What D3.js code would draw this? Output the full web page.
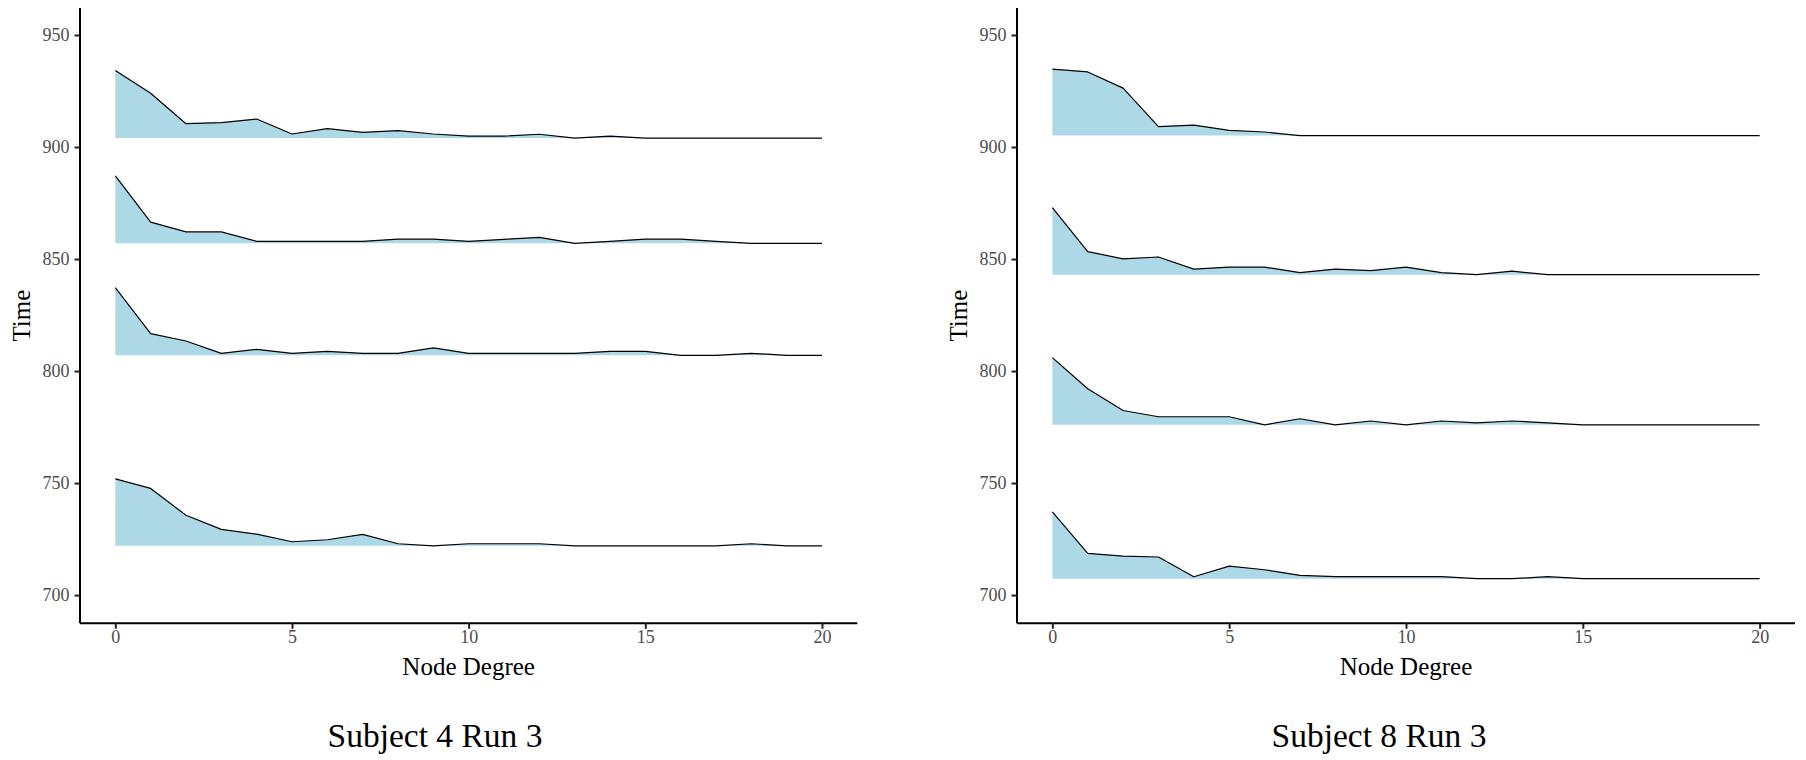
<!DOCTYPE html>
<html>
<head>
<meta charset="utf-8">
<script src="https://cdn.jsdelivr.net/npm/d3@7"></script>
<style>
  html, body { margin: 0; padding: 0; background: #ffffff; }
  svg { display: block; }
  text { font-family: "Liberation Serif", "DejaVu Serif", serif; }
</style>
</head>
<body>
<svg id="chart" width="1806" height="760"></svg>
<script>
// ---- Data ----
const nodeDegree = [0,1,2,3,4,5,6,7,8,9,10,11,12,13,14,15,16,17,18,19,20];

// Subject 4 Run 3 ridges (time values per node degree)
const s4Ridge1 = [934.1,924.0,910.4,910.9,912.5,905.8,908.2,906.5,907.3,905.8,904.9,904.9,905.7,904.0,904.9,904.0,904.0,904.0,904.0,904.0,904.0];
const s4Ridge2 = [887.1,866.5,862.1,862.1,857.9,857.9,857.9,857.9,858.9,858.9,857.9,858.8,859.7,857.0,857.9,858.9,858.9,857.9,857.0,857.0,857.0];
const s4Ridge3 = [837.2,816.7,813.4,807.9,809.7,807.9,808.8,807.9,807.9,810.3,807.9,807.9,807.9,807.9,808.8,808.8,807.0,807.0,807.9,807.0,807.0];
const s4Ridge4 = [751.9,747.6,735.6,729.3,727.2,723.8,724.7,727.1,722.9,722.0,722.9,722.9,722.9,722.0,722.0,722.0,722.0,722.0,722.9,722.0,722.0];

// Subject 8 Run 3 ridges
const s8Ridge1 = [934.8,933.5,926.3,909.1,909.8,907.4,906.7,905.1,905.1,905.1,905.1,905.1,905.1,905.1,905.1,905.1,905.1,905.1,905.1,905.1,905.1];
const s8Ridge2 = [872.9,853.3,850.1,850.9,845.5,846.4,846.4,843.9,845.5,844.8,846.4,843.9,843.0,844.6,843.0,843.0,843.0,843.0,843.0,843.0,843.0];
const s8Ridge3 = [806.0,792.1,782.4,779.6,779.6,779.6,776.0,778.7,776.0,777.7,776.0,777.7,776.9,777.7,776.9,776.0,776.0,776.0,776.0,776.0,776.0];
const s8Ridge4 = [737.1,718.6,717.4,717.0,708.2,712.9,711.3,708.8,708.2,708.2,708.2,708.2,707.3,707.3,708.2,707.3,707.3,707.3,707.3,707.3,707.3];

const xTicks = [0, 5, 10, 15, 20];
const yTicks = [700, 750, 800, 850, 900, 950];
const panelTitles = ["Subject 4 Run 3", "Subject 8 Run 3"];
const xLabel = "Node Degree";
const yLabel = "Time";

const panels = [
  { title: panelTitles[0], ridges: [s4Ridge1, s4Ridge2, s4Ridge3, s4Ridge4], left: 80, right: 857.3, titleX: 435 },
  { title: panelTitles[1], ridges: [s8Ridge1, s8Ridge2, s8Ridge3, s8Ridge4], left: 1017, right: 1795, titleX: 1379 }
];

// ---- Drawing ----
const svg = d3.select("#chart");
const plotTop = 8, plotBottom = 623.3;
const fillColor = "#ADD8E6";
const tickColor = "#4D4D4D";
const serif = '"Liberation Serif", "DejaVu Serif", serif';

panels.forEach(p => {
  const x = d3.scaleLinear().domain([-1, 21]).range([p.left, p.right]);
  const y = d3.scaleLinear().domain([687.4, 962.05]).range([plotBottom, plotTop]);
  const g = svg.append("g");

  // ridges
  p.ridges.forEach(vals => {
    const base = d3.min(vals);
    const pts = nodeDegree.map((d, i) => ({ x: d, v: vals[i] }));
    const area = d3.area().x(d => x(d.x)).y0(y(base)).y1(d => y(d.v));
    const line = d3.line().x(d => x(d.x)).y(d => y(d.v));
    g.append("path").datum(pts).attr("d", area).attr("fill", fillColor).attr("stroke", "none");
    g.append("path").datum(pts).attr("d", line).attr("fill", "none")
      .attr("stroke", "#000").attr("stroke-width", 1.2).attr("stroke-linejoin", "round");
  });

  // axes
  const xAxis = d3.axisBottom(x).tickValues(xTicks).tickSize(5.5).tickPadding(6).tickSizeOuter(0);
  const yAxis = d3.axisLeft(y).tickValues(yTicks).tickSize(5.5).tickPadding(5).tickSizeOuter(0);

  const gx = g.append("g").attr("transform", `translate(0,${plotBottom})`).call(xAxis);
  const gy = g.append("g").attr("transform", `translate(${p.left},0)`).call(yAxis);

  [gx, gy].forEach(ax => {
    ax.attr("font-family", serif);
    ax.select(".domain").attr("stroke", "#000").attr("stroke-width", 2);
    ax.selectAll(".tick line").attr("stroke", "#222").attr("stroke-width", 2);
    ax.selectAll(".tick text").attr("fill", tickColor)
      .style("font-family", serif).style("font-size", "18px");
  });
  gx.select(".domain").attr("d", `M${p.left},0H${p.right}`);
  gy.select(".domain").attr("d", `M0,${plotBottom}V${plotTop}`);
  gx.selectAll(".tick text").attr("y", 19.5).attr("dy", "0");

  // axis titles
  g.append("text")
    .attr("x", (p.left + p.right) / 2).attr("y", 675)
    .attr("text-anchor", "middle").attr("fill", "#000")
    .style("font-family", serif).style("font-size", "25px").text(xLabel);
  g.append("text")
    .attr("transform", `translate(${p.left - 50},${(plotTop + plotBottom) / 2}) rotate(-90)`)
    .attr("text-anchor", "middle").attr("fill", "#000")
    .style("font-family", serif).style("font-size", "25px").text(yLabel);

  // panel caption
  g.append("text")
    .attr("x", p.titleX).attr("y", 746.7)
    .attr("text-anchor", "middle").attr("fill", "#000")
    .style("font-family", serif).style("font-size", "33.5px").text(p.title);
});
</script>
</body>
</html>
